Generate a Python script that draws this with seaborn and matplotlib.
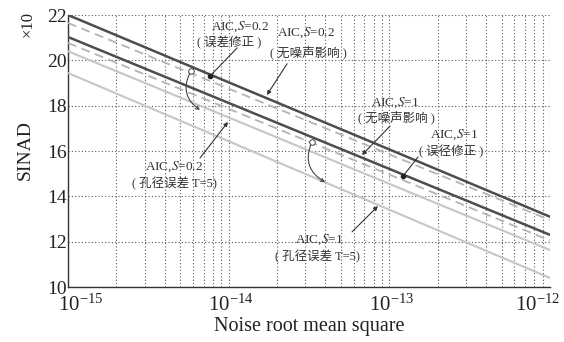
import numpy as np
import pandas as pd
import matplotlib
matplotlib.use("Agg")
import matplotlib.pyplot as plt
import matplotlib.transforms as mtransforms
from matplotlib.ticker import LogLocator, NullFormatter, FixedLocator
import seaborn as sns

# ---- data -------------------------------------------------------------
noise_rms = [1e-15, 1e-14, 1e-13, 1e-12]

sinad_s02_clean = [22.00, 19.03, 16.07, 13.10]      # AIC, S=0.2, no noise influence
sinad_s02_corr = [21.65, 18.75, 15.85, 12.95]       # AIC, S=0.2, error corrected
sinad_s1_clean = [21.03, 18.12, 15.21, 12.30]       # AIC, S=1, no noise influence
sinad_s1_corr = [20.77, 17.86, 14.96, 12.05]        # AIC, S=1, error corrected
sinad_s02_aperture = [20.40, 17.48, 14.55, 11.63]   # AIC, S=0.2, aperture error T=5
sinad_s1_aperture = [19.44, 16.43, 13.41, 10.40]    # AIC, S=1, aperture error T=5

y_ticks = [10, 12, 14, 16, 18, 20, 22]
x_ticks = [1e-15, 1e-14, 1e-13, 1e-12]
x_tick_labels = [r"$\mathdefault{10^{-15}}$", r"$\mathdefault{10^{-14}}$",
                 r"$\mathdefault{10^{-13}}$", r"$\mathdefault{10^{-12}}$"]

# ---- style ------------------------------------------------------------
sns.set_style("white")
plt.rcParams["font.family"] = ["Liberation Serif", "Noto Sans CJK SC"]
plt.rcParams["mathtext.fontset"] = "stix"

fig = plt.figure(figsize=(5.64, 3.42), dpi=100)
ax = fig.add_axes([68 / 564, 1 - 287 / 342, 482 / 564, 272 / 342])

DARK = "#4d4d4d"
DASH = "#b4b4b4"
LIGHT = "#c6c6c6"

series = [
    (sinad_s02_clean, DARK, "-", 1.8),
    (sinad_s02_corr, DASH, (0, (5, 3)), 1.3),
    (sinad_s1_clean, DARK, "-", 1.8),
    (sinad_s1_corr, DASH, (0, (5, 3)), 1.3),
    (sinad_s02_aperture, LIGHT, "-", 1.5),
    (sinad_s1_aperture, LIGHT, "-", 1.5),
]
for vals, col, ls, lw in series:
    sns.lineplot(x=noise_rms, y=vals, ax=ax, color=col, linestyle=ls, lw=lw,
                 legend=False, zorder=3)

ax.set_xscale("log")
ax.set_xlim(1e-15, 1e-12)
ax.set_ylim(10, 22)
ax.yaxis.set_major_locator(FixedLocator(y_ticks))
ax.xaxis.set_major_locator(FixedLocator(x_ticks))
ax.xaxis.set_minor_locator(LogLocator(base=10, subs=np.arange(2, 10), numticks=20))
ax.xaxis.set_minor_formatter(NullFormatter())

grid_kw = dict(color="#5a5a5a", linestyle=(0, (1, 2)), linewidth=0.8)
ax.grid(True, which="both", axis="x", **grid_kw)
ax.grid(True, which="major", axis="y", **grid_kw)
ax.set_axisbelow(True)

for side in ("top", "right"):
    ax.spines[side].set_visible(False)
for side in ("left", "bottom"):
    ax.spines[side].set_color("#333333")
    ax.spines[side].set_linewidth(1.0)

ax.tick_params(which="both", length=0)
ax.tick_params(axis="y", labelsize=14, pad=1, labelcolor="#222222")
ax.tick_params(axis="x", labelbottom=False)
ax.set_xlabel("")
ax.set_ylabel("")

# decade labels: outer ones pulled inward so they stay on the canvas
x_trans = ax.get_xaxis_transform()
for i, (v, lab) in enumerate(zip(x_ticks, x_tick_labels)):
    if i == 0:
        ha, dx = "left", -10
    elif i == len(x_ticks) - 1:
        ha, dx = "right", 10
    else:
        ha, dx = "center", 2
    tr = mtransforms.offset_copy(x_trans, fig=fig, x=dx, y=-8, units="dots")
    ax.text(v, 0, lab, transform=tr, ha=ha, va="top", fontsize=15, color="#222222")

fig.text(25 / 564, 1 - 150 / 342, "SINAD", rotation=90, ha="center", va="center",
         fontsize=14, color="#222222")
fig.text(28 / 564, 1 - 24 / 342, "×10", rotation=90, ha="center", va="center",
         fontsize=12, color="#222222")
fig.text(309 / 564, 1 - 327 / 342, "Noise root mean square", ha="center", va="center",
         fontsize=14.5, color="#222222")

# ---- annotations ------------------------------------------------------
TXT = "#333333"
labels = [
    # (x1, y1, first line, x2, y2, second line)
    (1.18e-14, 21.47, "AIC,$S$=0.2", 1.00e-14, 20.76, "( 误差修正 )"),
    (3.03e-14, 21.20, "AIC,$S$=0.2", 3.12e-14, 20.37, "( 无噪声影响 )"),
    (1.08e-13, 18.12, "AIC,$S$=1", 1.10e-13, 17.46, "( 无噪声影响 )"),
    (2.53e-13, 16.71, "AIC,$S$=1", 2.42e-13, 15.96, "( 误径修正 )"),
    (4.57e-15, 15.30, "AIC,$S$=0.2", 4.57e-15, 14.58, "( 孔径误差 T=5)"),
    (3.65e-14, 12.07, "AIC,$S$=1", 3.55e-14, 11.33, "( 孔径误差 T=5)"),
]
for x1, y1, t1, x2, y2, t2 in labels:
    ax.text(x1, y1, t1, ha="center", va="center", fontsize=9.5, color=TXT, zorder=5)
    ax.text(x2, y2, t2, ha="center", va="center", fontsize=9, color=TXT, zorder=5)

arrow_kw = dict(arrowstyle="-|>", color="#333333", lw=0.8, mutation_scale=6,
                shrinkA=0, shrinkB=0)
line_kw = dict(arrowstyle="-", color="#333333", lw=0.8, shrinkA=0, shrinkB=0)

# straight leaders ending at a dot
dot_leaders = [((1.13e-14, 20.55), (7.66e-15, 19.31)),
               ((1.51e-13, 15.74), (1.22e-13, 14.90))]
for start, end in dot_leaders:
    ax.annotate("", xy=end, xytext=start, arrowprops=line_kw, zorder=6)
    ax.plot([end[0]], [end[1]], marker="o", ms=3, color="#222222", zorder=6)

# straight leaders ending with an arrowhead
arrow_leaders = [((2.31e-14, 19.85), (1.73e-14, 18.47)),
                 ((6.63e-15, 15.69), (9.9e-15, 17.28)),
                 ((1.01e-13, 17.10), (6.76e-14, 15.82)),
                 ((5.86e-14, 12.43), (8.49e-14, 13.57))]
for start, end in arrow_leaders:
    ax.annotate("", xy=end, xytext=start, arrowprops=arrow_kw, zorder=6)

# curved arrows from a small circle across the line groups
curves = [((5.83e-15, 19.53), (6.63e-15, 17.81)),
          ((3.30e-14, 16.40), (3.98e-14, 14.63))]
for start, end in curves:
    ax.annotate("", xy=end, xytext=start,
                arrowprops=dict(arrowstyle="->", color="#444444", lw=0.8,
                                mutation_scale=6, shrinkA=2, shrinkB=0,
                                connectionstyle="arc3,rad=0.45"), zorder=6)
    ax.plot([start[0]], [start[1]], marker="o", ms=4, mfc="white",
            mec="#444444", mew=0.7, zorder=6)

fig.savefig("out.png", dpi=100)
